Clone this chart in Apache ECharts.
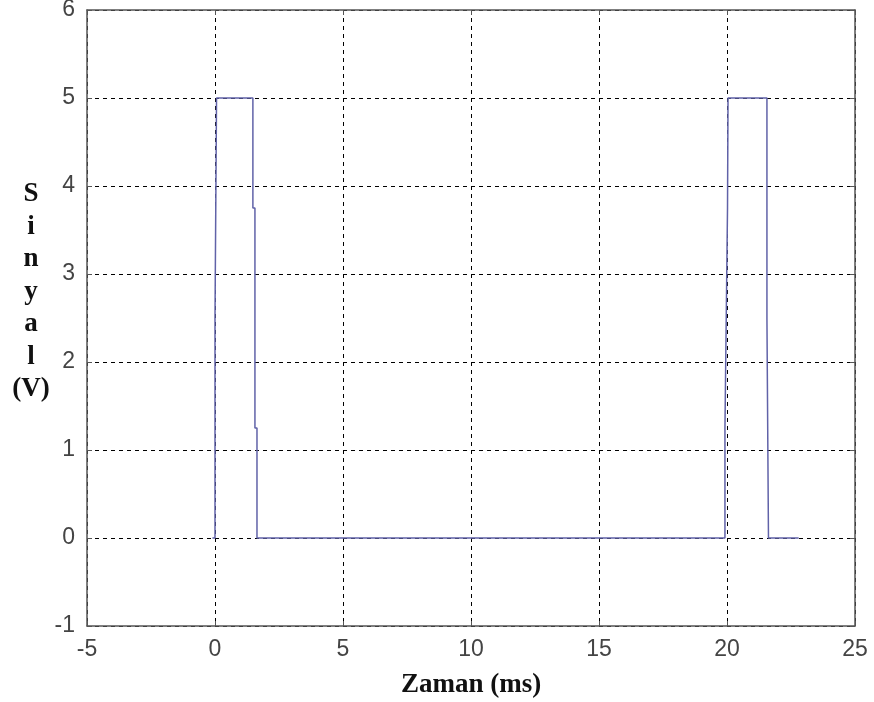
<!DOCTYPE html>
<html>
<head>
<meta charset="utf-8">
<script src="https://cdn.jsdelivr.net/npm/echarts@6/dist/echarts.min.js"></script>
<style>
  html, body { margin: 0; padding: 0; background: #fff; }
  #chart { width: 874px; height: 702px; }
</style>
</head>
<body>
<div id="chart"></div>
<script>
// zaman (ms) ve sinyal (V) noktalari
var timeMs = [-0.1, 0, 0, 0.06, 0.08, 1.48, 1.48, 1.56, 1.56, 1.64, 1.64, 19.92, 19.92, 20.02, 20.04, 20.04, 21.56, 21.56, 21.62, 21.62, 22.8];
var signalV = [0, 0, 2.5, 5, 5, 5, 3.75, 3.75, 1.25, 1.25, 0, 0, 1.25, 3.75, 3.75, 5, 5, 2.5, 2.5, 0, 0];
var xTicks = [-5, 0, 5, 10, 15, 20, 25];
var yTicks = [-1, 0, 1, 2, 3, 4, 5, 6];

var chart = echarts.init(document.getElementById('chart'));

var points = timeMs.map(function (t, i) { return [t, signalV[i]]; });

var gridDash = { color: '#000', type: [4, 4], width: 1 };
var boxLine = { show: true, onZero: false, lineStyle: { color: '#555', width: 1.5 } };
var tickIn = { show: true, inside: true, length: 5, lineStyle: { color: '#555' } };
var labelStyle = { color: '#444', fontSize: 23, fontFamily: 'Liberation Sans' };

var option = {
  backgroundColor: '#fff',
  animation: false,
  grid: { left: 87, right: 19, top: 10, bottom: 76, outerBoundsMode: 'none', containLabel: false },
  xAxis: [{
    type: 'value',
    min: xTicks[0],
    max: xTicks[xTicks.length - 1],
    interval: 5,
    axisLine: boxLine,
    axisTick: tickIn,
    axisLabel: Object.assign({ margin: 12 }, labelStyle),
    splitLine: { show: true, lineStyle: gridDash },
    name: 'Zaman (ms)',
    nameLocation: 'middle',
    nameGap: 46,
    nameTextStyle: { color: '#111', fontSize: 27, fontWeight: 'bold', fontFamily: 'Liberation Serif' }
  }, {
    type: 'value',
    position: 'top',
    min: xTicks[0],
    max: xTicks[xTicks.length - 1],
    interval: 5,
    axisLine: boxLine,
    axisTick: tickIn,
    axisLabel: { show: false },
    splitLine: { show: false }
  }],
  yAxis: [{
    type: 'value',
    min: yTicks[0],
    max: yTicks[yTicks.length - 1],
    interval: 1,
    axisLine: boxLine,
    axisTick: tickIn,
    axisLabel: Object.assign({ margin: 12 }, labelStyle),
    splitLine: { show: true, lineStyle: gridDash }
  }, {
    type: 'value',
    position: 'right',
    min: yTicks[0],
    max: yTicks[yTicks.length - 1],
    interval: 1,
    axisLine: boxLine,
    axisTick: tickIn,
    axisLabel: { show: false },
    splitLine: { show: false }
  }],
  graphic: [{
    type: 'text',
    x: 31,
    y: 178,
    style: {
      text: 'S\ni\nn\ny\na\nl\n(V)',
      fill: '#111',
      font: 'bold 27px "Liberation Serif"',
      lineHeight: 32.5,
      align: 'center'
    }
  }],
  series: [{
    type: 'line',
    data: points,
    showSymbol: false,
    lineStyle: { color: '#6062a8', width: 1.5 },
    itemStyle: { color: '#6062a8' }
  }]
};

chart.setOption(option);
</script>
</body>
</html>
